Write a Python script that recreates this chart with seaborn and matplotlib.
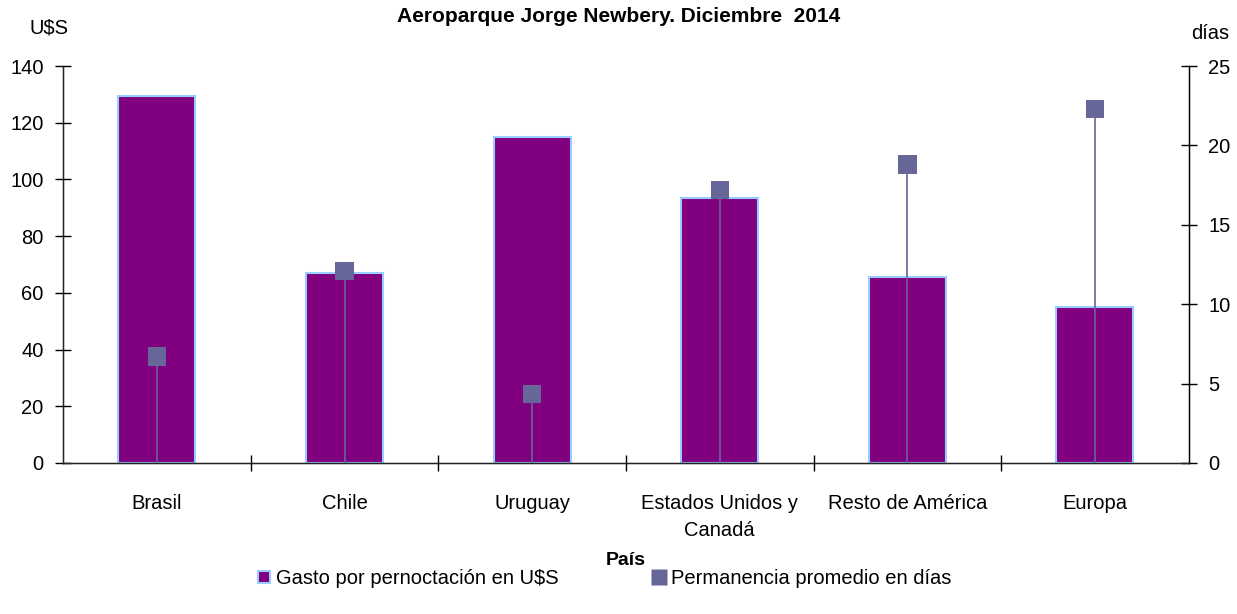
import matplotlib
matplotlib.use('Agg')
import matplotlib.pyplot as plt
from matplotlib.lines import Line2D
import numpy as np
import pandas as pd
import seaborn as sns

paises = ['Brasil', 'Chile', 'Uruguay', 'Estados Unidos y\nCanadá', 'Resto de América', 'Europa']
gasto = [129.5, 67.0, 115.0, 93.4, 65.6, 55.0]
permanencia = [6.7, 12.1, 4.35, 17.2, 18.8, 22.3]

bar_color = '#800080'
bar_edge = '#99ccff'
mark_color = '#666699'

sns.set_style('white')
plt.rcParams['font.family'] = ['Liberation Sans Narrow', 'Liberation Sans', 'DejaVu Sans']
plt.rcParams['text.color'] = 'black'
plt.rcParams['axes.labelcolor'] = 'black'
plt.rcParams['xtick.color'] = 'black'
plt.rcParams['ytick.color'] = 'black'

df = pd.DataFrame({'pais': paises, 'gasto': gasto, 'dias': permanencia})

fig = plt.figure(figsize=(12.37, 6.14), dpi=100)
ax = fig.add_axes([0.051, 0.246, 0.910, 0.6465])

sns.barplot(data=df, x='pais', y='gasto', color=bar_color, saturation=1,
            width=0.41, edgecolor=bar_edge, linewidth=1.5, ax=ax)
ax.set_ylim(0, 140)
ax.set_xlim(-0.5, 5.5)
ax.set_yticks(np.arange(0, 141, 20))
ax.set_xlabel('País', fontsize=14, fontweight='bold', labelpad=9)
ax.set_ylabel('')
ax.tick_params(axis='y', direction='inout', length=12, width=1, labelsize=14.5, pad=8, left=True)
ax.tick_params(axis='x', which='major', length=0, labelsize=14.5, pad=22)
for lbl in ax.get_xticklabels():
    lbl.set_linespacing(1.55)
ax.set_xticks(np.arange(0.5, 5.5, 1), minor=True)
ax.tick_params(axis='x', which='minor', direction='inout', length=12, width=1, bottom=True)
ax.spines['top'].set_visible(False)
for s in ['left', 'bottom', 'right']:
    ax.spines[s].set_color('black')
    ax.spines[s].set_linewidth(1)

ax2 = ax.twinx()
ax2.vlines(np.arange(len(paises)), 0, df['dias'], color=mark_color, linewidth=1.2)
sns.scatterplot(x=np.arange(len(paises)), y=df['dias'], marker='s', s=175, color=mark_color,
                edgecolor='none', ax=ax2, zorder=3, legend=False)
ax2.set_ylim(0, 25)
ax2.set_yticks(np.arange(0, 26, 5))
ax2.set_ylabel('')
ax2.tick_params(axis='y', direction='inout', length=12, width=1, labelsize=14.5, pad=8, right=True)
ax2.spines['top'].set_visible(False)
ax2.spines['right'].set_color('black')

fig.text(0.024, 0.955, 'U$S', fontsize=14.5, ha='left', va='center')
fig.text(0.978, 0.946, 'días', fontsize=14.5, ha='center', va='center')
fig.suptitle('Aeroparque Jorge Newbery. Diciembre  2014', x=0.5, y=0.973,
             fontsize=15, fontweight='bold', va='center')

handles = [
    Line2D([], [], linestyle='none', marker='s', markersize=9, markerfacecolor=bar_color,
           markeredgecolor=bar_edge, markeredgewidth=1.5),
    Line2D([], [], linestyle='none', marker='s', markersize=12, markerfacecolor=mark_color,
           markeredgecolor='none'),
]
fig.legend(handles, ['Gasto por pernoctación en U$S', 'Permanencia promedio en días'],
           loc='center', bbox_to_anchor=(0.487, 0.058), ncol=2, frameon=False,
           fontsize=14.5, handletextpad=0.1, columnspacing=4.5, handlelength=1.0)

fig.savefig('out.png', dpi=100)
